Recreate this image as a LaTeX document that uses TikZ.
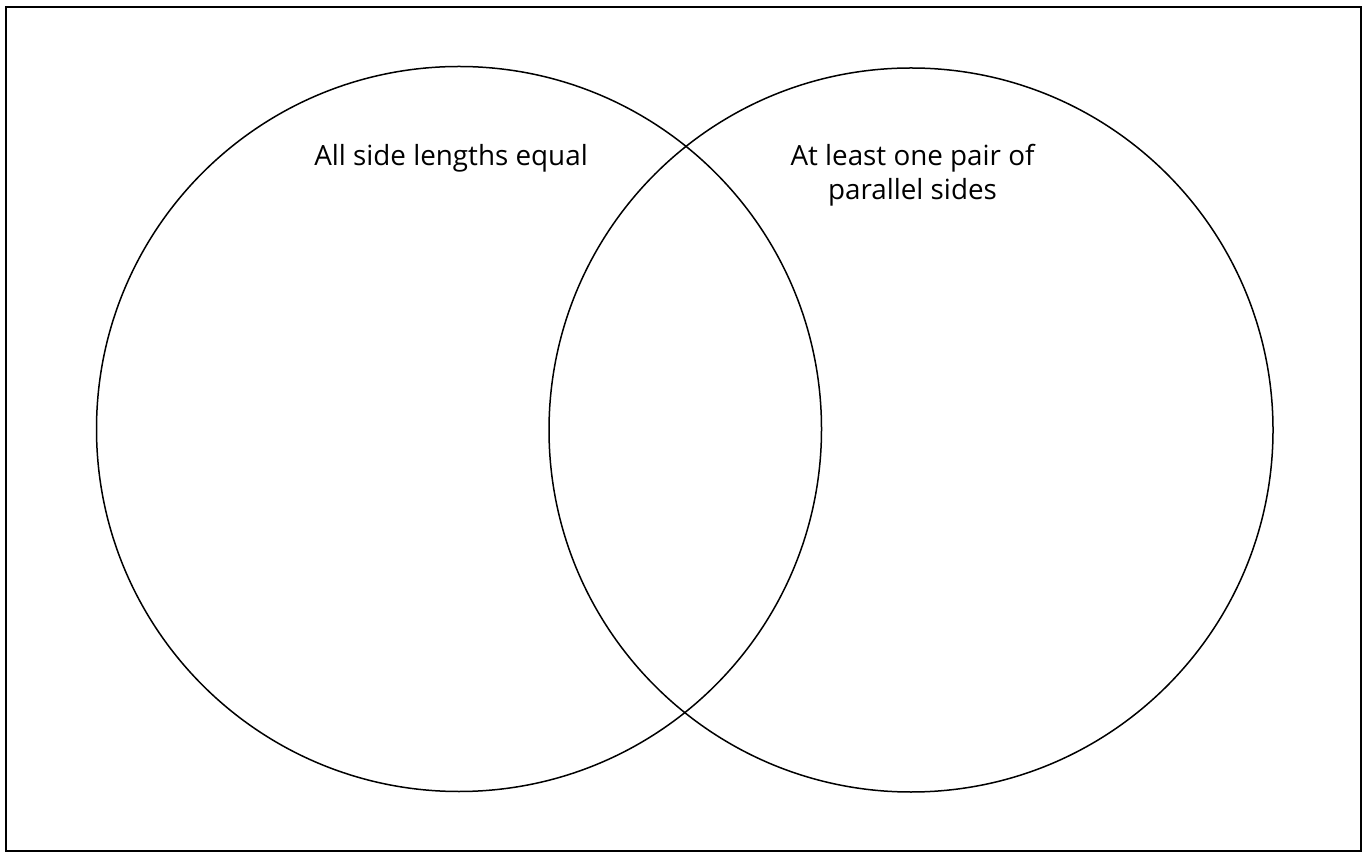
\documentclass[tikz,border=0pt]{standalone}
\usepackage{fontspec}
\setmainfont{Open Sans}
\usetikzlibrary{positioning}

\begin{document}
\begin{tikzpicture}[x=0.5pt,y=-0.5pt,font=\fontsize{13.9}{17}\selectfont]
  \tikzset{setline/.style={line width=0.75pt},
           setlabel/.style={inner sep=0pt,anchor=base,align=center}}
  \useasboundingbox (0,0) rectangle (1369,854);
  % frame
  \draw[line width=1.2pt] (6,7) rectangle (1361,851);
  % the two sets
  \draw[setline] (459,429) circle (362.5);
  \draw[setline] (911,430) circle (362);
  \node[setlabel] (equal) at (451,166) {All side lengths equal};
  \node[setlabel] (parallel) at (912.5,200) {At least one pair of\\parallel sides};
\end{tikzpicture}
\end{document}
